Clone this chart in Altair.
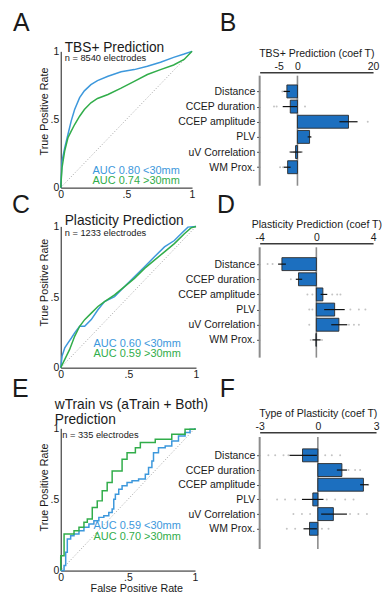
import altair as alt
import pandas as pd

FONT = "Liberation Sans"
BLUE = "#3d98dc"
GREEN = "#31ad4a"
BAR_FILL = "#1c6fbf"
INK = "#1a1a1a"
AXIS_GRAY = "#8c8c8c"
DOT = "#c4c4c4"

FEATURES = ["Distance", "CCEP duration", "CCEP amplitude", "PLV", "uV Correlation", "WM Prox."]
POS = [1, 2, 3, 4, 5, 6]
CHANCE = [0, 1]

# ---------------- ROC curves ----------------
A_FPR = [0, 0.01, 0.03, 0.055, 0.08, 0.106, 0.144, 0.18, 0.23, 0.28, 0.36, 0.46, 0.56, 0.66, 0.76, 0.86, 0.94, 1]
A_BLUE_TPR = [0, 0.195, 0.29, 0.39, 0.49, 0.573, 0.66, 0.71, 0.756, 0.785, 0.817, 0.85, 0.866, 0.89, 0.92, 0.956, 0.98, 1]
A_GREEN_TPR = [0, 0.146, 0.268, 0.366, 0.415, 0.463, 0.524, 0.573, 0.622, 0.654, 0.683, 0.73, 0.78, 0.83, 0.866, 0.90, 0.94, 1]

C_BLUE_FPR = [0, 0.01, 0.03, 0.054, 0.079, 0.103, 0.14, 0.177, 0.226, 0.275, 0.324, 0.398, 0.472, 0.545, 0.62, 0.693, 0.767, 0.84, 0.89, 0.94, 1]
C_BLUE_TPR = [0, 0.082, 0.14, 0.176, 0.21, 0.246, 0.293, 0.293, 0.34, 0.41, 0.468, 0.503, 0.574, 0.644, 0.714, 0.785, 0.855, 0.90, 0.948, 0.995, 1]
C_GREEN_FPR = [0, 0.03, 0.066, 0.103, 0.14, 0.177, 0.226, 0.275, 0.324, 0.398, 0.472, 0.545, 0.62, 0.693, 0.767, 0.84, 0.914, 0.963, 1]
C_GREEN_TPR = [0, 0.059, 0.129, 0.222, 0.293, 0.34, 0.386, 0.433, 0.468, 0.515, 0.574, 0.632, 0.703, 0.761, 0.82, 0.878, 0.948, 0.99, 1]

E_BLUE_FPR = [0, 0.025, 0.037, 0.049, 0.074, 0.099, 0.136, 0.173, 0.21, 0.247, 0.284, 0.321, 0.358, 0.383, 0.395, 0.407,
              0.432, 0.457, 0.494, 0.531, 0.58, 0.63, 0.654, 0.679, 0.691, 0.728, 0.778, 0.827, 0.877, 0.926, 0.963, 1]
E_BLUE_TPR = [0, 0.035, 0.128, 0.222, 0.245, 0.257, 0.28, 0.304, 0.327, 0.35, 0.374, 0.386, 0.409, 0.433, 0.502, 0.537,
              0.572, 0.596, 0.619, 0.631, 0.643, 0.678, 0.724, 0.771, 0.829, 0.864, 0.876, 0.911, 0.946, 0.97, 0.993, 1]
E_GREEN_FPR = [0, 0, 0.025, 0.099, 0.136, 0.173, 0.198, 0.235, 0.272, 0.309, 0.346, 0.383, 0.457, 0.494, 0.556, 0.593, 0.704, 0.827, 0.926, 1]
E_GREEN_TPR = [0, 0.105, 0.257, 0.28, 0.304, 0.339, 0.362, 0.444, 0.49, 0.561, 0.619, 0.70, 0.783, 0.829, 0.864, 0.90, 0.923, 0.958, 0.993, 1]

# ---------------- Coefficient bars ----------------
B_VAL = [-2.8, -1.9, 13.5, 3.2, -0.5, -2.6]
B_LO = [-3.7, -3.9, 11.1, 2.7, -1.9, -3.6]
B_HI = [-2.0, -0.1, 15.9, 3.6, 1.1, -1.8]
B_DOTS = [[-4.0, -3.3, -2.0], [-6.2, -5.5, 2.0], [7.6, 8.4, 18.6], [2.8, 3.6], [-2.0, -0.9, 1.2], [-4.6, -3.8, -1.0]]

D_VAL = [-2.43, -1.26, 0.46, 1.29, 1.59, -0.03]
D_LO = [-2.7, -1.45, 0.3, 0.55, 1.05, -0.28]
D_HI = [-2.15, -1.0, 0.77, 2.0, 2.18, 0.3]
D_DOTS = [[-3.44, -3.09, -1.92, -1.57], [-1.8, -1.1, -0.8], [-0.63, -0.28, 1.12, 1.47, 1.7],
          [-0.5, -0.28, 2.4, 3.0, 3.46], [-0.5, 2.3, 2.65, 3.0], [-0.4, 0.4]]

F_VAL = [-0.79, 1.24, 2.35, -0.26, 0.8, -0.43]
F_LO = [-1.46, 0.98, 2.18, -0.82, 0.17, -0.74]
F_HI = [-0.05, 1.5, 2.61, 0.29, 1.5, -0.05]
F_DOTS = [[-2.55, -2.2, -1.77, -1.52, 0.38, 0.72, 1.15], [0.55, 0.89, 1.58, 1.92, 2.18], [1.75, 1.92, 2.6],
          [-2.1, -1.69, -1.17, 0.46, 0.89, 1.41, 1.84], [-1.26, -0.82, -0.4, 1.66, 2.09, 2.53], [-1.6, -1.17, 0.21, 0.55]]

ROC_LBL = "datum.value == 0.5 ? '.5' : (datum.value == 1 ? '1' : '0')"
NEG_LBL = "datum.value < 0 ? '-' + abs(datum.value) : '' + datum.value"
CAT_LBL = "[" + ",".join("'" + f + "'" for f in FEATURES) + "][datum.value - 1]"


def txt(s, x, y, size, color=INK, align="left"):
    return alt.Chart(pd.DataFrame({"t": [s]})).mark_text(
        align=align, baseline="alphabetic", fontSize=size, color=color, font=FONT
    ).encode(text="t:N", x=alt.value(x), y=alt.value(y))


def roc_panel(bf, bt, gf, gt, width, height, interp, letter, titles, ntext, n_y, aucs, auc_x, auc_y, ytitle_y, xtitle=""):
    xscale = alt.Scale(domain=[0, 1], nice=False, zero=False)
    yscale = alt.Scale(domain=[0, 1], nice=False, zero=False)
    xaxis_kw = dict(values=[0, 0.5, 1], labelExpr=ROC_LBL, ticks=False, grid=False, domainColor=INK,
                    labelFontSize=10.5, labelColor=INK, labelPadding=2, labelFlush=False, title=xtitle,
                    titleFontSize=10.8, titleFontWeight="normal", titleColor=INK, titlePadding=0)
    if xtitle:
        xaxis_kw["titleX"] = 76
    xaxis = alt.Axis(**xaxis_kw)
    yaxis = alt.Axis(values=[0, 0.5, 1], labelExpr=ROC_LBL, ticks=False, grid=False, domainColor=INK,
                     labelFontSize=10.5, labelColor=INK, labelPadding=2, labelFlush=False,
                     title="True Positive Rate", titleFontSize=10.8, titleFontWeight="normal",
                     titleColor=INK, titlePadding=1, titleY=ytitle_y)
    X = alt.X("fpr:Q", scale=xscale, axis=xaxis)
    Y = alt.Y("tpr:Q", scale=yscale, axis=yaxis)
    diag = alt.Chart(pd.DataFrame({"fpr": CHANCE, "tpr": CHANCE})).mark_line(
        color="#8a8a8a", strokeWidth=0.8, strokeDash=[1, 2]).encode(x=X, y=Y)
    blue = alt.Chart(pd.DataFrame({"fpr": bf, "tpr": bt, "i": list(range(len(bf)))})).mark_line(
        color=BLUE, strokeWidth=1.5, interpolate=interp).encode(x=X, y=Y, order="i:Q")
    green = alt.Chart(pd.DataFrame({"fpr": gf, "tpr": gt, "i": list(range(len(gf)))})).mark_line(
        color=GREEN, strokeWidth=1.5, interpolate=interp).encode(x=X, y=Y, order="i:Q")
    layers = [diag, blue, green]
    layers.append(txt(letter[0], letter[1], letter[2], 25))
    for s, x, y in titles:
        layers.append(txt(s, x, y, 13.8))
    layers.append(txt(ntext[0], ntext[1], n_y, 9.3))
    layers.append(txt(aucs[0], auc_x, auc_y[0], 11, BLUE))
    layers.append(txt(aucs[1], auc_x, auc_y[1], 11, GREEN))
    return alt.layer(*layers).properties(width=width, height=height)


def bar_panel(vals, lo, hi, dots, xdom, xticks, width, height, ydom, line_top, line_bot, axis_off, title, letter):
    df = pd.DataFrame({"pos": POS, "val": vals, "lo": lo, "hi": hi})
    dpos, dval = [], []
    for p, row in zip(POS, dots):
        for v in row:
            dpos.append(p)
            dval.append(v)
    ddf = pd.DataFrame({"pos": dpos, "val": dval})
    xs = alt.Scale(domain=xdom, nice=False, zero=False)
    ys = alt.Scale(domain=ydom, nice=False, zero=False, reverse=True)
    xaxis = alt.Axis(orient="top", values=xticks, labelExpr=NEG_LBL, offset=axis_off, ticks=False, grid=False,
                     domainColor="#3a3a3a", domainWidth=1.4, labelFontSize=10.5, labelColor=INK, labelPadding=1,
                     labelFlush=False, title=title, titleFontSize=10.6, titleFontWeight="normal",
                     titleColor=INK, titlePadding=3)
    yaxis = alt.Axis(values=POS, labelExpr=CAT_LBL, domain=False, grid=False, tickSize=3, tickColor="#333",
                     labelFontSize=10.5, labelColor=INK, labelPadding=2, title="")
    one = pd.DataFrame({"k": [0]})
    left_line = alt.Chart(one).mark_rule(color=AXIS_GRAY, strokeWidth=2).encode(
        x=alt.XDatum(xdom[0], scale=xs, axis=xaxis),
        y=alt.YDatum(line_top, scale=ys, axis=yaxis), y2=alt.Y2Datum(line_bot))
    zero_line = alt.Chart(one).mark_rule(color=AXIS_GRAY, strokeWidth=1.6).encode(
        x=alt.XDatum(0, scale=xs, axis=xaxis),
        y=alt.YDatum(line_top, scale=ys, axis=yaxis), y2=alt.Y2Datum(line_bot))
    X = lambda f: alt.X(f, scale=xs, axis=xaxis)
    Y = alt.Y("pos:Q", scale=ys, axis=yaxis)
    pts = alt.Chart(ddf).mark_circle(size=4, color=DOT, opacity=1).encode(x=X("val:Q"), y=Y)
    bars = alt.Chart(df).mark_bar(size=13, orient="horizontal", color=BAR_FILL, stroke="#2b2b2b",
                                  strokeWidth=0.9).encode(x=X("val:Q"), x2=alt.X2Datum(0), y=Y)
    errs = alt.Chart(df).mark_rule(color="#111111", strokeWidth=1.2).encode(x=X("lo:Q"), x2="hi:Q", y=Y)
    lt = txt(letter[0], letter[1], letter[2], 25)
    return alt.layer(left_line, zero_line, pts, bars, errs, lt).properties(width=width, height=height)


A = roc_panel(A_FPR, A_BLUE_TPR, A_FPR, A_GREEN_TPR, 132, 137, "linear", ("A", -48, -20),
              [("TBS+ Prediction", 4, 1)], ("n = 8540 electrodes", 4), 9.5,
              ("AUC 0.80 <30mm", "AUC 0.74 >30mm"), 32, (123.5, 133.5), 60)
C = roc_panel(C_BLUE_FPR, C_BLUE_TPR, C_GREEN_FPR, C_GREEN_TPR, 136, 142, "linear", ("C", -49, -13),
              [("Plasticity Prediction", 4, -1)], ("n = 1233 electrodes", 4), 9.5,
              ("AUC 0.60 <30mm", "AUC 0.59 >30mm"), 33, (121, 131.5), 56)
E = roc_panel(E_BLUE_FPR, E_BLUE_TPR, E_GREEN_FPR, E_GREEN_TPR, 135, 143, "step-after", ("E", -49, -31),
              [("wTrain vs (aTrain + Both)", -6, -19), ("Prediction", -6, -4)], ("n = 335 electrodes", 1.5), 10,
              ("AUC 0.59 <30mm", "AUC 0.70 >30mm"), 33, (101, 112), 59, xtitle="False Positive Rate")

B = bar_panel(B_VAL, B_LO, B_HI, B_DOTS, [-10, 20], [-5, 0, 20], 114, 141, [-1.317, 7.28], -0.04, 7.22, -21,
              "TBS+ Prediction (coef T)", ("B", -40, -20))
D = bar_panel(D_VAL, D_LO, D_HI, D_DOTS, [-4, 4], [-4, 0, 4], 114, 168, [-1.16, 9.21], -0.11, 7.17, -17,
              "Plasticity Prediction (coef T)", ("D", -43, -13))
F = bar_panel(F_VAL, F_LO, F_HI, F_DOTS, [-3, 3], [-3, 0, 3], 117, 130, [-0.5, 7.625], -0.25, 7.375, -4,
              "Type of Plasticity (coef T)", ("F", -40, -31))

chart = alt.concat(A, B, C, D, E, F, columns=2, spacing={"row": 35, "column": 64},
                   bounds="flush", align="none").properties(
    padding={"left": 4, "top": 2, "right": 2, "bottom": 2}
).configure(font=FONT).configure_view(stroke=None)

chart.save("out.html", embed_options={"renderer": "svg", "actions": False})
